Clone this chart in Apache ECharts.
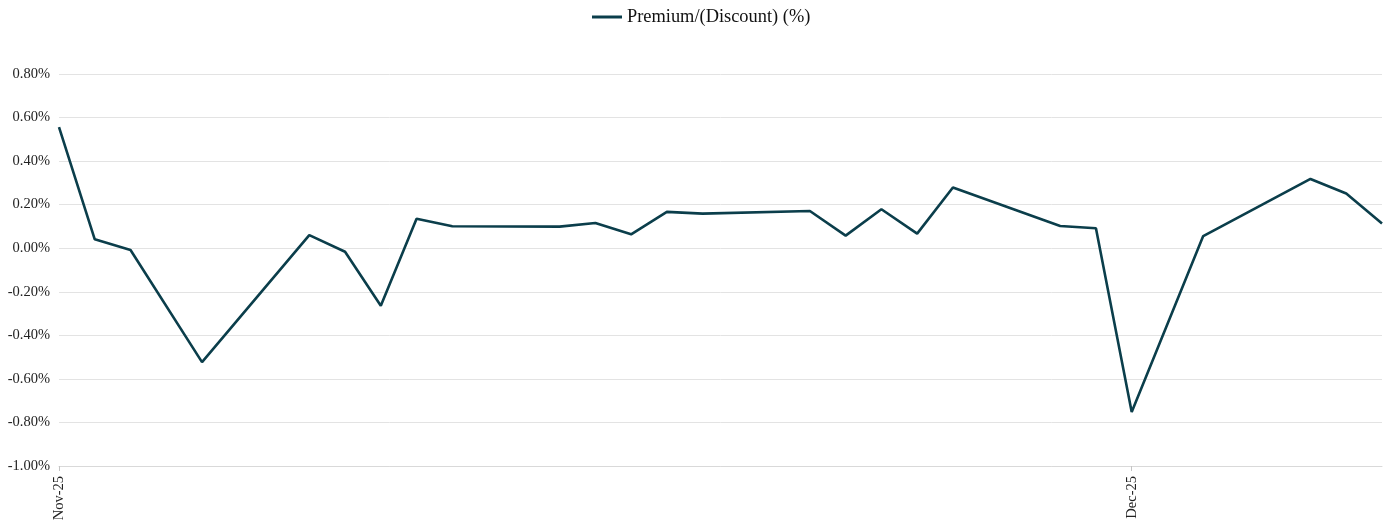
<!DOCTYPE html>
<html>
<head>
<meta charset="utf-8">
<script src="https://cdn.jsdelivr.net/npm/echarts@6/dist/echarts.min.js"></script>
<style>
html,body{margin:0;padding:0;background:#fff;overflow:hidden;}
#chart{width:1386px;height:521px;}
</style>
</head>
<body>
<div id="chart"></div>
<script>
// Observation dates and values in %
var dates = ['2025-11-01','2025-11-02','2025-11-03','2025-11-05','2025-11-08','2025-11-09','2025-11-10','2025-11-11','2025-11-12','2025-11-15','2025-11-16','2025-11-17','2025-11-18','2025-11-19','2025-11-22','2025-11-23','2025-11-24','2025-11-25','2025-11-26','2025-11-29','2025-11-30','2025-12-01','2025-12-03','2025-12-06','2025-12-07','2025-12-08'];
var premium = [0.556,0.041,-0.008,-0.523,0.060,-0.016,-0.264,0.135,0.101,0.099,0.116,0.064,0.167,0.159,0.171,0.058,0.179,0.067,0.279,0.102,0.092,-0.752,0.056,0.318,0.251,0.113];
var seriesName = 'Premium/(Discount) (%)';
var yTicks = [-1.0,-0.8,-0.6,-0.4,-0.2,0,0.2,0.4,0.6,0.8];
var monthNames = ['Jan','Feb','Mar','Apr','May','Jun','Jul','Aug','Sep','Oct','Nov','Dec'];

// build daily category axis from first to last date
function parse(d){var p=d.split('-');return Date.UTC(+p[0],+p[1]-1,+p[2]);}
var start = parse(dates[0]), end = parse(dates[dates.length-1]);
var days = [];
for (var t=start; t<=end; t+=86400000){ days.push(new Date(t).toISOString().slice(0,10)); }
var lookup = {};
dates.forEach(function(d,i){lookup[d]=premium[i];});
var seriesData = days.map(function(d){ return lookup.hasOwnProperty(d) ? lookup[d] : null; });
function isMonthStart(idx){ return days[idx].slice(8,10)==='01'; }

var serif = 'Liberation Serif, Times New Roman, serif';
var chart = echarts.init(document.getElementById('chart'));
chart.setOption({
  animation:false,
  textStyle:{fontFamily:serif},
  legend:{
    top:3, left:587,
    itemWidth:30, itemHeight:14, itemGap:10,
    icon:'path://M0,6 L30,6 L30,9 L0,9 Z',
    textStyle:{fontFamily:serif, fontSize:18.4, color:'#111'},
    data:[seriesName]
  },
  grid:{left:59, right:4, top:74, bottom:55, containLabel:false, outerBoundsMode:'none'},
  xAxis:{
    type:'category',
    data:days,
    boundaryGap:false,
    axisLine:{show:true, onZero:false, lineStyle:{color:'#d9d9d9', width:1}},
    axisTick:{show:true, length:5, lineStyle:{color:'#c4c4c4'}, interval:function(i){return isMonthStart(i);}},
    axisLabel:{
      rotate:90, fontSize:14.5, color:'#222', margin:10,
      fontFamily:serif,
      interval:function(i){return isMonthStart(i);},
      formatter:function(v){ var m=+v.slice(5,7)-1; return monthNames[m]+'-'+v.slice(2,4); }
    },
    splitLine:{show:false}
  },
  yAxis:{
    type:'value',
    min:yTicks[0], max:yTicks[yTicks.length-1], interval:0.2,
    axisLine:{show:false}, axisTick:{show:false},
    axisLabel:{fontSize:14.5, color:'#222', margin:9, fontFamily:serif,
      formatter:function(v){ return v.toFixed(2)+'%'; }},
    splitLine:{show:true, lineStyle:{color:'#e3e3e3', width:1}}
  },
  series:[{
    name:seriesName,
    type:'line',
    data:seriesData,
    connectNulls:true,
    showSymbol:false,
    symbol:'none',
    lineStyle:{color:'#0b3e4b', width:2.6},
    itemStyle:{color:'#0b3e4b'}
  }]
});
</script>
</body>
</html>
